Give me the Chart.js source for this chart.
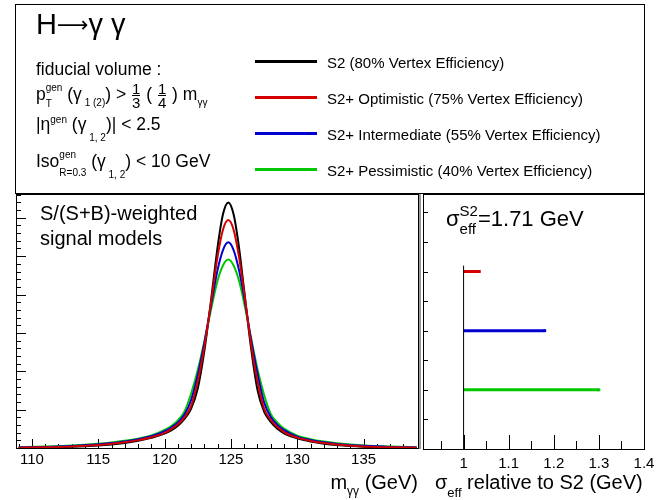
<!DOCTYPE html>
<html>
<head>
<meta charset="utf-8">
<script src="https://cdn.jsdelivr.net/npm/chart.js@4.4.1/dist/chart.umd.min.js"></script>
<style>
  body { margin: 0; background: #fff; }
  #page { position: relative; width: 659px; height: 500px; overflow: hidden;
          font-family: "Liberation Sans", Arial, Helvetica, sans-serif; color: #000; }
  #page canvas { position: absolute; left: 0; top: 0; }
  .t { position: absolute; white-space: nowrap; line-height: 40px; }
  .stk { display: inline-grid; font-size: 10px; line-height: 10px; }
  .stk > span { grid-area: 1 / 1; position: relative; }
  .sh { position: relative; }
  .fr { display: inline-grid; font-size: 15px; line-height: 13px; vertical-align: middle;
        text-align: center; margin: 0 1px; }
  .fr > span:first-child { border-bottom: 1px solid #000; }
  #topbox { position: absolute; left: 15px; top: 4px; width: 630px; height: 190px;
            box-sizing: border-box; border: 1px solid #000; }
  #padline { position: absolute; left: 419px; top: 194px; width: 2px; height: 255px; background: #999; }
  .legline { position: absolute; left: 255px; width: 62px; height: 3px; }
</style>
</head>
<body>
<div id="page">
  <div id="topbox"></div>
  <div id="padline"></div>
  <canvas id="massChart" width="659" height="500"></canvas>
  <canvas id="effChart" width="659" height="500"></canvas>

  <div class="t" style="left:36px;top:4px;font-size:29px">H<span style="font-family:'DejaVu Sans';font-size:22px;position:relative;top:-2px">⟶</span>γ γ</div>
  <div class="t" style="left:36px;top:49px;font-size:17.5px">fiducial volume :</div>
  <div class="t" style="left:36px;top:74px;font-size:17.5px">p<span class="stk"><span style="top:-9.5px">gen</span><span style="top:6.5px">T</span></span> (γ<span class="sh" style="font-size:10px;top:6px">&nbsp;1 (2)</span>) &gt; <span class="fr"><span>1</span><span>3</span></span> ( <span class="fr"><span>1</span><span>4</span></span> ) m<span class="sh" style="font-size:10px;top:6px">γγ</span></div>
  <div class="t" style="left:36px;top:104px;font-size:17.5px">|η<span class="sh" style="font-size:10px;top:-7px">gen</span> (γ<span class="sh" style="font-size:10px;top:11px">&nbsp;1, 2</span>)| &lt; 2.5</div>
  <div class="t" style="left:36px;top:141px;font-size:17.5px">Iso<span class="stk"><span style="top:-9.5px">gen</span><span style="top:9px">R=0.3</span></span> (γ<span class="sh" style="font-size:10px;top:11px">&nbsp;1, 2</span>) &lt; 10 GeV</div>
  <div id="legend"></div>

  <div class="t" style="left:40px;top:193px;font-size:20px">S/(S+B)-weighted</div>
  <div class="t" style="left:40px;top:218px;font-size:20px">signal models</div>

  <div class="t" style="left:446px;top:199px;font-size:22px">σ<span class="stk" style="font-size:15px;line-height:15px"><span style="top:-10px">S2</span><span style="top:8px">eff</span></span>=1.71 GeV</div>

  <div class="t" style="right:241px;top:462px;font-size:20px">m<span class="sh" style="font-size:12px;top:6px">γγ</span> (GeV)</div>
  <div class="t" style="left:435px;top:462px;font-size:20px">σ<span class="sh" style="font-size:13px;top:8px">eff</span> relative to S2 (GeV)</div>
</div>

<script>
// valeurs (unités arbitraires en y)
const massGeV = [109, 111, 113, 115, 116, 117, 118, 119, 120, 120.5, 121, 121.5, 122, 122.5, 123, 123.5, 124, 124.4, 124.8,
                 125.2, 125.6, 126, 126.5, 127, 127.5, 128, 128.5, 129, 130, 131, 132, 133, 135, 137, 139];

const curveS2 = [0.005, 0.013, 0.032, 0.067, 0.094, 0.133, 0.187, 0.266, 0.373, 0.46, 0.58, 0.76, 1.03, 1.55, 2.54, 3.85, 5.25, 6.09, 6.40,
                 6.09, 5.25, 4.10, 2.65, 1.52, 0.95, 0.68, 0.50, 0.384, 0.25, 0.168, 0.112, 0.075, 0.032, 0.012, 0.004];
const curveOptimistic = [0.0085, 0.0195, 0.041, 0.078, 0.108, 0.150, 0.205, 0.281, 0.395, 0.491, 0.62, 0.80, 1.10, 1.74, 2.65, 3.79, 5.00, 5.69, 5.94,
                 5.69, 5.00, 4.05, 2.75, 1.74, 1.03, 0.73, 0.545, 0.416, 0.270, 0.185, 0.129, 0.089, 0.042, 0.018, 0.0068];
const curveIntermediate = [0.0147, 0.0287, 0.0546, 0.0959, 0.130, 0.172, 0.230, 0.305, 0.437, 0.535, 0.665, 0.87, 1.25, 1.91, 2.75, 3.72, 4.65, 5.16, 5.36,
                 5.16, 4.65, 3.92, 2.86, 1.94, 1.19, 0.81, 0.603, 0.465, 0.298, 0.210, 0.149, 0.107, 0.0556, 0.027, 0.012];
const curvePessimistic = [0.0214, 0.039, 0.0652, 0.113, 0.146, 0.192, 0.244, 0.327, 0.469, 0.575, 0.72, 0.95, 1.42, 2.03, 2.783, 3.61, 4.37, 4.756, 4.91,
                 4.756, 4.37, 3.774, 2.90, 2.06, 1.39, 0.89, 0.66, 0.508, 0.324, 0.229, 0.167, 0.125, 0.0667, 0.0366, 0.0179];

const scenarioLabels = ['S2 (80% Vertex Efficiency)', 'S2+ Optimistic (75% Vertex Efficiency)',
                        'S2+ Intermediate (55% Vertex Efficiency)', 'S2+ Pessimistic (40% Vertex Efficiency)'];
const scenarioColors = ['#000000', '#d40000', '#0000d0', '#00c800'];

// sigma_eff relatif a S2, pour les trois scenarios S2+
const sigmaRelative = [1.035, 1.18, 1.30];
const sigmaRows = [6, 4, 2];
const refLineY = [0, 6.2];

Chart.defaults.font.family = '"Liberation Sans", Arial, Helvetica, sans-serif';
Chart.defaults.font.size = 15;
Chart.defaults.color = '#000';

// cadre + graduations interieures facon ROOT
const rootFrame = {
  id: 'rootFrame',
  beforeDatasetsDraw(chart, args, o) {
    const { ctx, chartArea: a } = chart;
    const sx = chart.scales.x, sy = chart.scales.y;
    ctx.save();
    ctx.strokeStyle = '#000';
    ctx.lineWidth = 1;
    ctx.strokeRect(a.left + 0.5, a.top + 0.5, a.right - a.left, a.bottom - a.top);
    const line = (x1, y1, x2, y2) => { ctx.beginPath(); ctx.moveTo(x1, y1); ctx.lineTo(x2, y2); ctx.stroke(); };
    const steps = (sc, minor) => {
      const out = [];
      for (let k = Math.ceil(sc.min / minor - 1e-6); k * minor <= sc.max + 1e-6; k++) out.push(+(k * minor).toFixed(6));
      return out;
    };
    const isMajor = (v, major) => Math.abs(v / major - Math.round(v / major)) < 1e-6;
    steps(sx, o.xMinor).forEach(v => {
      const px = Math.round(sx.getPixelForValue(v)) + 0.5;
      if (px <= a.left + 1 || px >= a.right - 1) return;
      line(px, a.bottom, px, a.bottom - (isMajor(v, o.xMajor) ? o.xLen[0] : o.xLen[1]));
    });
    steps(sy, o.yMinor).forEach(v => {
      const py = Math.round(sy.getPixelForValue(v)) + 0.5;
      if (py >= a.bottom - 1 || py <= a.top + 1) return;
      line(a.left, py, a.left + (isMajor(v, o.yMajor) ? o.yLen[0] : o.yLen[1]), py);
    });
    ctx.restore();
  }
};

const fixAxis = h => function(scale) { scale.height = h; scale.paddingLeft = 0; scale.paddingRight = 0; };

const curves = [curveS2, curveOptimistic, curveIntermediate, curvePessimistic];
const drawOrder = [3, 0, 1, 2];

new Chart(document.getElementById('massChart'), {
  type: 'line',
  data: {
    datasets: curves.map((c, i) => ({
      label: scenarioLabels[i],
      data: massGeV.map((m, j) => ({ x: m, y: c[j] })),
      borderColor: scenarioColors[i],
      borderWidth: 2,
      pointRadius: 0,
      cubicInterpolationMode: 'monotone',
      fill: false,
      order: drawOrder[i]
    }))
  },
  options: {
    responsive: false,
    animation: false,
    layout: { padding: { left: 16, top: 194, right: 241, bottom: 0 } },
    plugins: {
      legend: { display: false },
      tooltip: { enabled: false },
      rootFrame: { xMinor: 1, xMajor: 5, xLen: [9, 4], yMinor: 0.2, yMajor: 1, yLen: [10, 5] }
    },
    scales: {
      x: {
        type: 'linear', min: 108.8, max: 139.1,
        grid: { display: false, drawTicks: false },
        border: { display: false },
        ticks: { stepSize: 5, includeBounds: false, padding: 3 },
        afterFit: fixAxis(52)
      },
      y: { display: false, min: 0, max: 6.62 }
    }
  },
  plugins: [rootFrame]
});

const effDatasets = [{
  label: 'S2',
  data: refLineY.map(v => ({ x: 1, y: v })),
  borderColor: scenarioColors[0],
  borderWidth: 1,
  pointRadius: 0
}];
sigmaRelative.forEach((r, i) => {
  effDatasets.push({
    label: scenarioLabels[i + 1],
    data: [{ x: 1, y: sigmaRows[i] }, { x: r, y: sigmaRows[i] }],
    borderColor: scenarioColors[i + 1],
    backgroundColor: scenarioColors[i + 1],
    borderWidth: 3,
    pointStyle: 'rect',
    pointRadius: [0, 2],
    pointBorderWidth: 0
  });
});

new Chart(document.getElementById('effChart'), {
  type: 'line',
  data: { datasets: effDatasets },
  options: {
    responsive: false,
    animation: false,
    layout: { padding: { left: 423, top: 194, right: 15, bottom: 0 } },
    plugins: {
      legend: { display: false },
      tooltip: { enabled: false },
      rootFrame: { xMinor: 0.05, xMajor: 0.1, xLen: [14, 8], yMinor: 1, yMajor: 1, yLen: [5, 5] }
    },
    scales: {
      x: {
        type: 'linear', min: 0.91, max: 1.4,
        grid: { display: false, drawTicks: false },
        border: { display: false },
        ticks: { stepSize: 0.1, includeBounds: false, padding: 6, callback: v => String(+v.toFixed(2)) },
        afterFit: fixAxis(51)
      },
      y: { display: false, min: 0, max: 8.62 }
    }
  },
  plugins: [rootFrame]
});

// legende du cadre superieur
const legend = document.getElementById('legend');
scenarioLabels.forEach((name, i) => {
  const y = 61.7 + i * 35.8;
  const ln = document.createElement('div');
  ln.className = 'legline';
  ln.style.top = (y - 1.5) + 'px';
  ln.style.background = scenarioColors[i];
  legend.appendChild(ln);
  const tx = document.createElement('div');
  tx.className = 't';
  tx.style.left = '327px';
  tx.style.top = (y + 6.8 - 25.2) + 'px';
  tx.style.fontSize = '15px';
  tx.textContent = name;
  legend.appendChild(tx);
});
</script>
</body>
</html>
